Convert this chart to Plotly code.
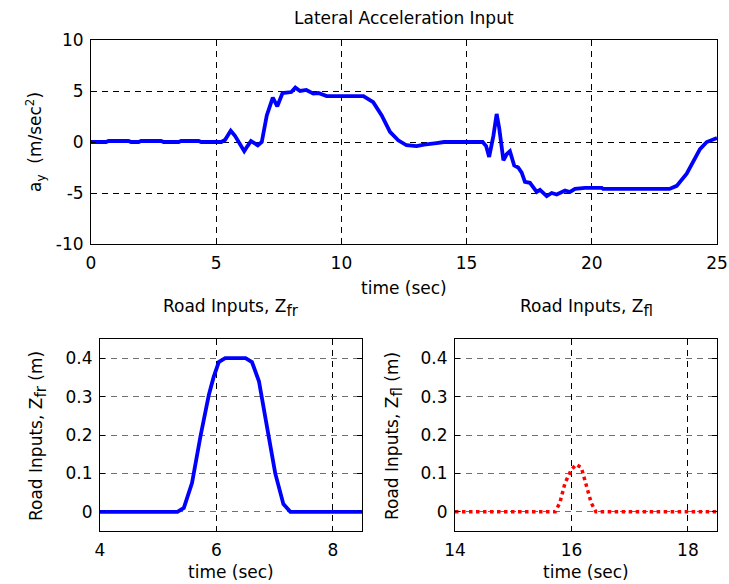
import plotly.graph_objects as go

# ---- data ----
t_ay = [0, 0.6, 0.7, 1.5, 1.6, 1.9, 2.0, 2.8, 2.9, 3.5, 3.6, 4.3, 4.4, 5.2, 5.35, 5.58, 5.75, 5.95, 6.12, 6.25,
        6.39, 6.52, 6.66, 6.82, 7.02, 7.26, 7.44, 7.65, 7.84, 8.0, 8.16, 8.35, 8.6, 8.88, 9.08, 9.41, 10.88, 11.27,
        11.61, 11.94, 12.27, 12.6, 13.0, 13.3, 13.8, 14.1, 15.64, 15.78, 15.9, 16.07, 16.2, 16.3, 16.47, 16.6,
        16.73, 16.9, 17.06, 17.2, 17.33, 17.53, 17.65, 17.8, 17.93, 18.2, 18.4, 18.6, 18.93, 19.13, 19.33, 19.73,
        20.4, 20.45, 23.1, 23.39, 23.79, 24.05, 24.32, 24.59, 24.8, 25.0]
ay = [0, 0, 0.1, 0.1, 0, 0, 0.1, 0.1, 0, 0, 0.1, 0.1, 0, 0, 0.2, 1.1, 0.6, -0.2, -0.9, -0.4,
      0.1, -0.1, -0.33, 0, 2.6, 4.35, 3.5, 4.8, 4.85, 4.9, 5.33, 5.0, 5.1, 4.74, 4.8, 4.5, 4.5, 3.9,
      2.6, 1.0, 0.17, -0.32, -0.4, -0.25, -0.1, 0, 0, -0.4, -1.47, 0.6, 2.75, 1.4, -1.8, -1.2,
      -0.9, -2.3, -2.5, -3.0, -3.9, -4.0, -4.4, -4.9, -4.7, -5.3, -5.0, -5.15, -4.75, -4.9, -4.6, -4.5,
      -4.5, -4.6, -4.6, -4.3, -3.1, -2.0, -0.7, 0, 0.25, 0.4]

t_fr = [4, 5.33, 5.44, 5.58, 5.73, 5.87, 5.95, 6.04, 6.15, 6.5, 6.61, 6.73, 6.87, 7.01, 7.15, 7.27, 8.5]
z_fr = [0, 0, 0.01, 0.075, 0.2, 0.305, 0.35, 0.39, 0.4, 0.4, 0.39, 0.34, 0.22, 0.1, 0.02, 0, 0]

t_fl = [14, 15.72, 15.8, 15.89, 16.0, 16.08, 16.17, 16.25, 16.34, 16.42, 18.5]
z_fl = [0, 0, 0.023, 0.075, 0.11, 0.123, 0.115, 0.07, 0.023, 0, 0]

top_xticks = [0, 5, 10, 15, 20, 25]
top_yticks = [-10, -5, 0, 5, 10]
top_yticktext = ["-10", "-5", "0", "5", "10"]
z_yticks = [0, 0.1, 0.2, 0.3, 0.4]
z_yticktext = ["0", "0.1", "0.2", "0.3", "0.4"]
fr_xticks = [4, 6, 8]
fl_xticks = [14, 16, 18]

W, H = 729, 584
FONT = "DejaVu Sans, Liberation Sans, Arial"

def px_x(p):
    return p / W

def px_y(p):
    return 1 - p / H

fig = go.Figure()
fig.add_trace(go.Scatter(x=t_ay, y=ay, mode="lines", line=dict(color="#0000FF", width=3.8),
                         xaxis="x", yaxis="y", showlegend=False))
fig.add_trace(go.Scatter(x=t_fr, y=z_fr, mode="lines", line=dict(color="#0000FF", width=3.8),
                         xaxis="x2", yaxis="y2", showlegend=False))
fig.add_trace(go.Scatter(x=t_fl, y=z_fl, mode="lines", line=dict(color="#FF0000", width=3.5, dash="dot"),
                         xaxis="x3", yaxis="y3", showlegend=False))

common = dict(showline=True, linecolor="black", linewidth=1, mirror="ticks", ticks="inside",
              ticklen=5, tickcolor="black", showgrid=True, gridcolor="black", gridwidth=1,
              griddash="6px,5px", zeroline=False, automargin=False,
              tickfont=dict(family=FONT, size=17, color="black"))

fig.update_layout(
    template="none",
    width=W, height=H, margin=dict(l=0, r=0, t=0, b=0, pad=0),
    paper_bgcolor="white", plot_bgcolor="white",
    xaxis=dict(domain=[px_x(91), px_x(717)], range=[0, 25], tickvals=top_xticks, anchor="y",
               ticklabelstandoff=4, **common),
    yaxis=dict(domain=[px_y(244), px_y(40)], range=[-10, 10], tickvals=top_yticks,
               ticktext=top_yticktext, anchor="x", ticklabelstandoff=3, **common),
    xaxis2=dict(domain=[px_x(100), px_x(362)], range=[4, 8.5], tickvals=fr_xticks, anchor="y2",
                ticklabelstandoff=4, **common),
    yaxis2=dict(domain=[px_y(531), px_y(339)], range=[-0.05, 0.45], tickvals=z_yticks,
                ticktext=z_yticktext, anchor="x2", ticklabelstandoff=3,
                **{**common, "gridcolor": "#707070"}),
    xaxis3=dict(domain=[px_x(455), px_x(717)], range=[14, 18.5], tickvals=fl_xticks, anchor="y3",
                ticklabelstandoff=4, **common),
    yaxis3=dict(domain=[px_y(531), px_y(339)], range=[-0.05, 0.45], tickvals=z_yticks,
                ticktext=z_yticktext, anchor="x3", ticklabelstandoff=3,
                **{**common, "gridcolor": "#707070"}),
)

def ann(text, x, y, size=17, angle=0):
    fig.add_annotation(text=text, x=px_x(x), y=px_y(y), xref="paper", yref="paper",
                       xanchor="center", yanchor="middle", showarrow=False, textangle=angle,
                       font=dict(family=FONT, size=size, color="black"))

SUB = "<sub><span style='font-size:15px'>{}</span></sub>"

ann("Lateral Acceleration Input", 404, 18, size=17)
ann("time (sec)", 404, 288)
ann("a<sub>y</sub>  (m/sec<sup>2</sup>)", 36, 142, angle=-90)

ann("Road Inputs, Z" + SUB.format("fr"), 231, 308, size=17)
ann("time (sec)", 231, 572)
ann("Road Inputs, Z" + SUB.format("fr") + " (m)", 38, 436, angle=-90)

ann("Road Inputs, Z" + SUB.format("fl"), 586, 308, size=17)
ann("time (sec)", 586, 572)
ann("Road Inputs, Z" + SUB.format("fl") + " (m)", 394, 436, angle=-90)

fig.write_html("out.html")
